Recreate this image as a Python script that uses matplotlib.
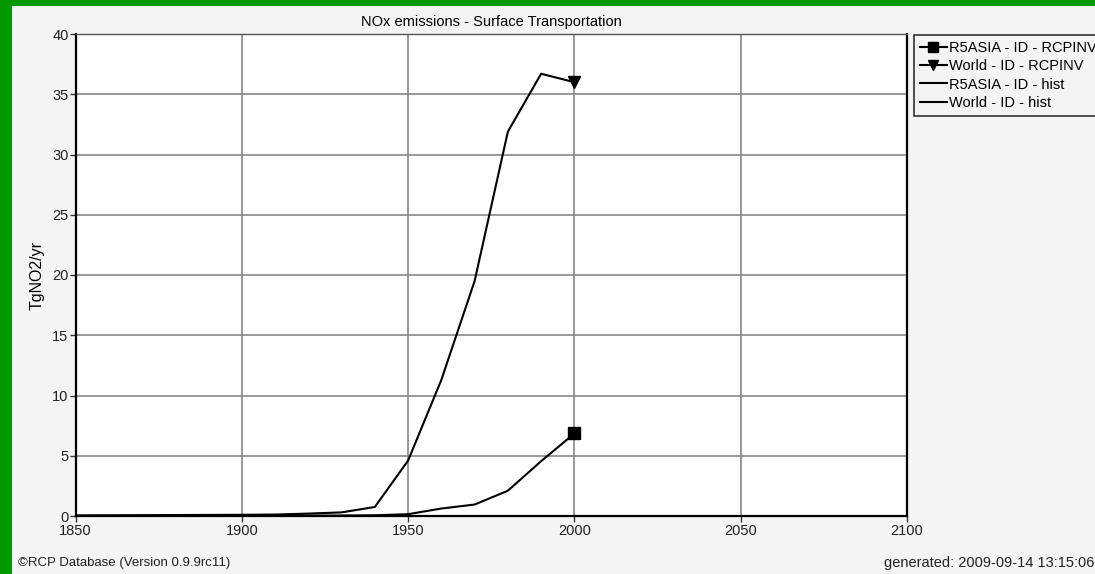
import matplotlib.pyplot as plt
from matplotlib.patches import Rectangle

plt.rcParams['font.family'] = ['Liberation Sans', 'DejaVu Sans']

years = [1850, 1860, 1870, 1880, 1890, 1900, 1910, 1920, 1930, 1940,
         1950, 1960, 1970, 1980, 1990, 2000]
world_hist = [0.05, 0.06, 0.07, 0.08, 0.09, 0.1, 0.12, 0.2, 0.3, 0.75,
              4.6, 11.3, 19.5, 31.9, 36.7, 36.0]
asia_hist = [0.0, 0.0, 0.0, 0.0, 0.01, 0.01, 0.02, 0.03, 0.04, 0.06,
             0.15, 0.62, 0.95, 2.1, 4.55, 6.85]
rcp_year = [2000]
asia_rcp = [6.85]
world_rcp = [36.0]

fig = plt.figure(figsize=(10.95, 5.74), dpi=100)
fig.patch.set_facecolor('#f4f4f4')

# green frame on left and top edge
fig.add_artist(Rectangle((0, 0), 12 / 1095, 1, transform=fig.transFigure,
                         facecolor='#009900', edgecolor='none'))
fig.add_artist(Rectangle((0, 1 - 6 / 574), 1, 6 / 574, transform=fig.transFigure,
                         facecolor='#009900', edgecolor='none'))

ax = fig.add_axes([75.5 / 1095, 58 / 574, 831.5 / 1095, 482 / 574])
ax.set_facecolor('white')

l1, = ax.plot(rcp_year, asia_rcp, color='black', lw=1.5, marker='s', ms=8,
              label='R5ASIA - ID - RCPINV')
l2, = ax.plot(rcp_year, world_rcp, color='black', lw=1.5, marker='v', ms=8,
              label='World - ID - RCPINV')
l3, = ax.plot(years, asia_hist, color='black', lw=1.5, label='R5ASIA - ID - hist')
l4, = ax.plot(years, world_hist, color='black', lw=1.5, label='World - ID - hist')

ax.set_xlim(1850, 2100)
ax.set_ylim(0, 40)
ax.set_xticks(range(1850, 2101, 50))
ax.set_yticks(range(0, 41, 5))
ax.grid(True, color='#888888', lw=1.2)
ax.set_axisbelow(True)
ax.tick_params(labelsize=10.5, length=4, width=1, color='#333333',
               labelcolor='#222222')
ax.tick_params(axis='y', pad=1)
ax.tick_params(axis='x', pad=2)
for s in ['left', 'bottom', 'right']:
    ax.spines[s].set_linewidth(1.6)
ax.spines['top'].set_linewidth(1.0)
ax.spines['top'].set_color('#555555')

ax.set_ylabel('TgNO2/yr', fontsize=11.5)
ax.yaxis.set_label_coords(-(75.5 - 45) / 831.5, 0.5)
ax.set_title('NOx emissions - Surface Transportation', fontsize=10.5, pad=6)

leg = fig.legend(handles=[l1, l2, l3, l4], loc='upper left',
                 bbox_to_anchor=(914 / 1095, 1 - 35 / 574), fontsize=10.5,
                 frameon=True, fancybox=False, borderpad=0.4, labelspacing=0.3,
                 handlelength=1.85, handletextpad=0.15, borderaxespad=0,
                 markerscale=0.95)
leg.get_frame().set_edgecolor('black')
leg.get_frame().set_linewidth(1.2)
leg.get_frame().set_facecolor('#f4f4f4')

fig.text(18 / 1095, 1 - 563 / 574, '\u00a9RCP Database (Version 0.9.9rc11)',
         fontsize=9.5, va='center', ha='left', color='#222222')
fig.text(1094 / 1095, 1 - 563 / 574, 'generated: 2009-09-14 13:15:06',
         fontsize=10.5, va='center', ha='right', color='#222222')

fig.savefig('out.png', dpi=100, facecolor=fig.get_facecolor())
